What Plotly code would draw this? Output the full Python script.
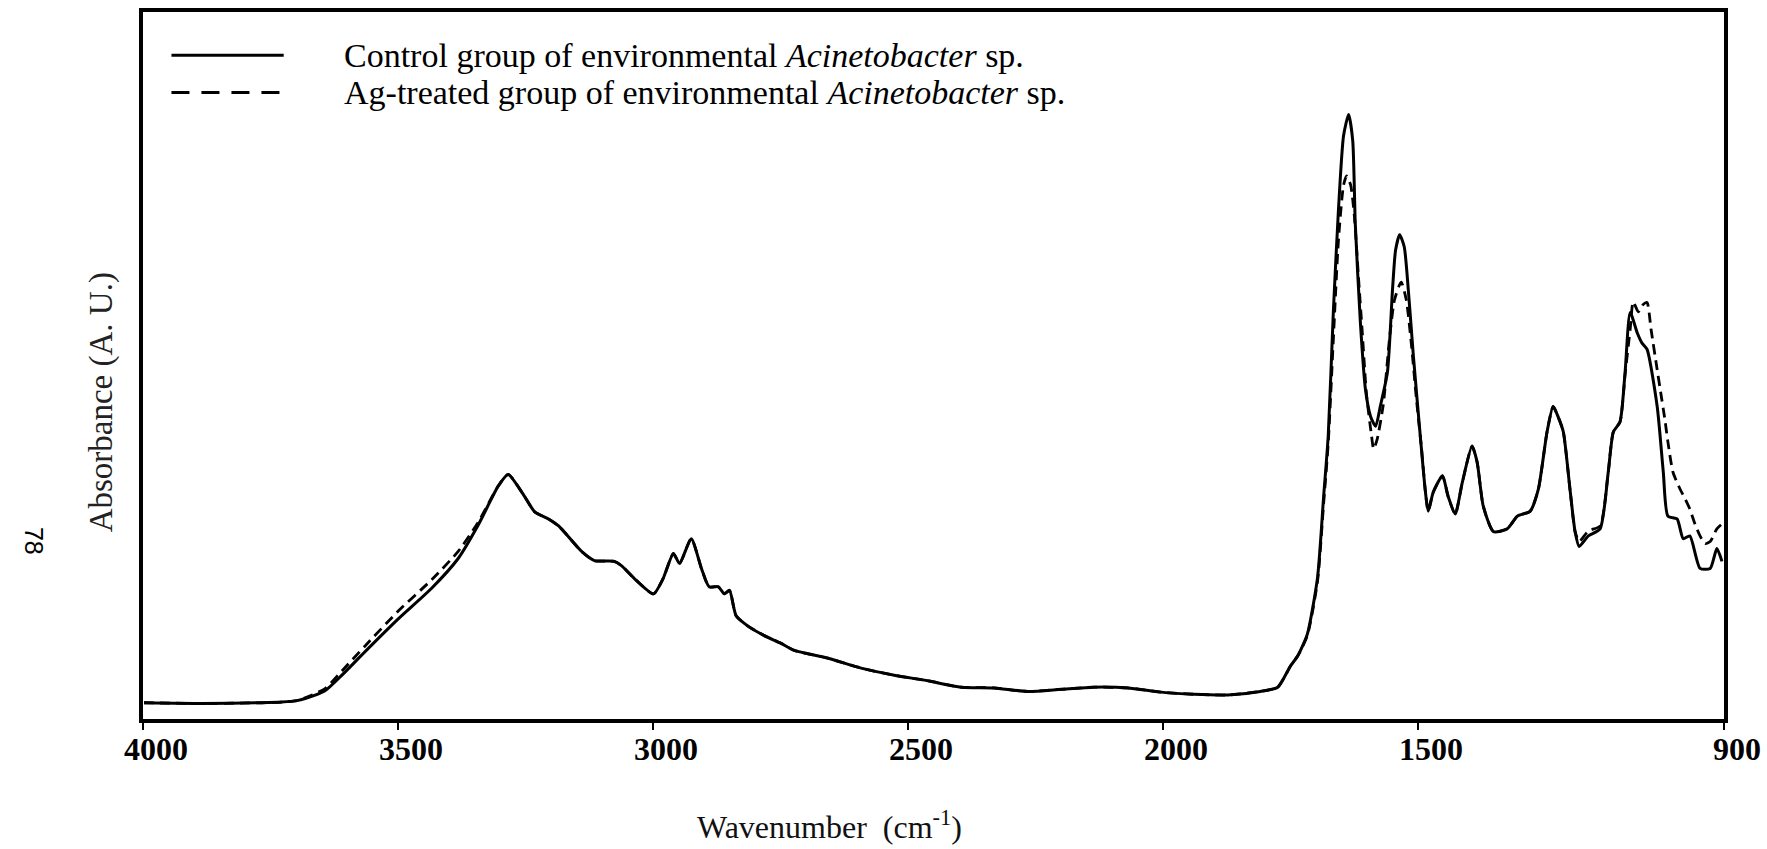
import plotly.graph_objects as go

# Wavenumber (cm-1) and absorbance (A.U.)
wn_control = [3998, 3884, 3767, 3728, 3698, 3682, 3643, 3610, 3565, 3499, 3434, 3382, 3343, 3303, 3284,
              3252, 3232, 3205, 3185, 3140, 3115, 3076, 3062, 3037, 2999, 2980, 2960, 2948, 2925, 2905,
              2890, 2872, 2860, 2850, 2837, 2813, 2782, 2749, 2723, 2657, 2592, 2527, 2461, 2396, 2332,
              2265, 2200, 2136, 2069, 2004, 1940, 1873, 1809, 1775, 1750, 1736, 1717, 1697, 1685, 1676,
              1666, 1656, 1646, 1636, 1628, 1623, 1613, 1603, 1593, 1583, 1574, 1560, 1550, 1544, 1536,
              1527, 1519, 1509, 1495, 1486, 1480, 1470, 1452, 1441, 1427, 1413, 1394, 1384, 1372, 1352,
              1325, 1305, 1280, 1264, 1247, 1235, 1225, 1215, 1202, 1192, 1184, 1166, 1143, 1127, 1117,
              1104, 1094, 1084, 1070, 1061, 1051, 1031, 1019, 1010, 992, 980, 967, 947, 927, 914, 904]
abs_control = [0.023, 0.022, 0.023, 0.024, 0.026, 0.029, 0.040, 0.062, 0.095, 0.142, 0.185, 0.227, 0.274, 0.330, 0.346,
               0.315, 0.293, 0.283, 0.273, 0.237, 0.224, 0.223, 0.217, 0.199, 0.177, 0.199, 0.234, 0.220, 0.255, 0.213,
               0.187, 0.187, 0.177, 0.182, 0.146, 0.131, 0.118, 0.107, 0.097, 0.086, 0.072, 0.062, 0.054, 0.045, 0.044,
               0.039, 0.042, 0.045, 0.044, 0.038, 0.035, 0.034, 0.039, 0.045, 0.075, 0.089, 0.120, 0.200, 0.315, 0.401,
               0.576, 0.720, 0.825, 0.855, 0.818, 0.701, 0.561, 0.466, 0.428, 0.414, 0.442, 0.490, 0.607, 0.663, 0.685,
               0.668, 0.607, 0.513, 0.396, 0.325, 0.294, 0.321, 0.344, 0.315, 0.290, 0.335, 0.386, 0.363, 0.301, 0.265,
               0.269, 0.287, 0.294, 0.325, 0.406, 0.442, 0.427, 0.406, 0.325, 0.265, 0.244, 0.259, 0.269, 0.349, 0.406,
               0.420, 0.490, 0.575, 0.546, 0.532, 0.523, 0.442, 0.349, 0.287, 0.283, 0.255, 0.259, 0.213, 0.213, 0.241, 0.223]

wn_ag = [3998, 3884, 3767, 3728, 3698, 3682, 3643, 3610, 3565, 3499, 3434, 3382, 3343, 3303, 3284,
         3252, 3232, 3205, 3185, 3140, 3115, 3076, 3062, 3037, 2999, 2980, 2960, 2948, 2925, 2905,
         2890, 2872, 2860, 2850, 2837, 2813, 2782, 2749, 2723, 2657, 2592, 2527, 2461, 2396, 2332,
         2265, 2200, 2136, 2069, 2004, 1940, 1873, 1809, 1775, 1750, 1736, 1717, 1697, 1685, 1676,
         1666, 1656, 1646, 1640, 1632, 1625, 1617, 1609, 1601, 1591, 1587, 1580, 1568, 1556, 1546,
         1533, 1523, 1513, 1503, 1493, 1486, 1480, 1470, 1452, 1441, 1427, 1413, 1394, 1384, 1372, 1352,
         1325, 1305, 1280, 1264, 1247, 1235, 1225, 1215, 1202, 1192, 1184, 1166, 1143, 1127, 1117,
         1104, 1094, 1084, 1078, 1068, 1059, 1051, 1043, 1031, 1025, 1016, 1010, 1000, 986, 976,
         967, 957, 947, 937, 927, 914, 904]
abs_ag = [0.023, 0.022, 0.023, 0.024, 0.026, 0.030, 0.043, 0.068, 0.103, 0.153, 0.197, 0.237, 0.278, 0.330, 0.346,
          0.315, 0.293, 0.283, 0.273, 0.237, 0.224, 0.223, 0.217, 0.199, 0.177, 0.199, 0.234, 0.220, 0.255, 0.213,
          0.187, 0.187, 0.177, 0.182, 0.146, 0.131, 0.118, 0.107, 0.097, 0.086, 0.072, 0.062, 0.054, 0.045, 0.044,
          0.039, 0.042, 0.045, 0.044, 0.038, 0.035, 0.034, 0.039, 0.045, 0.075, 0.089, 0.118, 0.195, 0.305, 0.390,
          0.537, 0.677, 0.755, 0.768, 0.755, 0.713, 0.628, 0.544, 0.459, 0.400, 0.382, 0.396, 0.445, 0.537, 0.593,
          0.618, 0.593, 0.530, 0.452, 0.382, 0.325, 0.294, 0.321, 0.344, 0.315, 0.290, 0.335, 0.386, 0.363, 0.301, 0.265,
          0.269, 0.287, 0.294, 0.325, 0.406, 0.442, 0.427, 0.406, 0.325, 0.265, 0.251, 0.266, 0.273, 0.349, 0.406,
          0.420, 0.487, 0.551, 0.590, 0.576, 0.586, 0.589, 0.551, 0.494, 0.466, 0.424, 0.392, 0.349, 0.325, 0.311,
          0.297, 0.276, 0.259, 0.248, 0.251, 0.269, 0.276]

x_ticks = [4000, 3500, 3000, 2500, 2000, 1500, 900]
legend_labels = ["Control group of environmental <i>Acinetobacter</i> sp.",
                 "Ag-treated group of environmental <i>Acinetobacter</i> sp."]

SERIF = "Liberation Serif"

fig = go.Figure()
fig.add_trace(go.Scatter(x=wn_ag, y=abs_ag, mode="lines", showlegend=False,
                         line=dict(color="black", width=2.8, dash="10px,6px",
                                   shape="spline", smoothing=0.6)))
fig.add_trace(go.Scatter(x=wn_control, y=abs_control, mode="lines", showlegend=False,
                         line=dict(color="black", width=3, shape="spline", smoothing=0.6)))

# hand-made legend (long line samples like the reference)
leg_y = [0.939, 0.886]
leg_dash = ["solid", "18px,12px"]
for yy, dsh, lab in zip(leg_y, leg_dash, legend_labels):
    fig.add_shape(type="line", xref="paper", yref="paper", x0=0.018, x1=0.089, y0=yy, y1=yy,
                  line=dict(color="black", width=3, dash=dsh))
    fig.add_annotation(xref="paper", yref="paper", x=0.126, y=yy, xanchor="left", yanchor="middle",
                       text=lab, showarrow=False, font=dict(family=SERIF, size=34, color="black"))

fig.add_annotation(xref="paper", yref="paper", x=0.434, y=-0.150, xanchor="center", yanchor="middle",
                   text="Wavenumber\u00a0\u00a0(cm<sup>-1</sup>)", showarrow=False,
                   font=dict(family=SERIF, size=32, color="#111"))
fig.add_annotation(xref="paper", yref="paper", x=-0.0265, y=0.448, xanchor="center", yanchor="middle",
                   text="Absorbance (A. U.)", textangle=-90, showarrow=False,
                   font=dict(family=SERIF, size=33, color="#222"))
fig.add_annotation(xref="paper", yref="paper", x=-0.069, y=0.252, xanchor="center", yanchor="middle",
                   text="78", textangle=90, showarrow=False,
                   font=dict(family="Liberation Sans", size=25, color="black"))

fig.update_layout(
    width=1767, height=849,
    margin=dict(l=143, r=43, t=12, b=130, autoexpand=False),
    paper_bgcolor="white", plot_bgcolor="white",
    xaxis=dict(range=[4000, 900], tickvals=x_ticks, ticktext=[str(t) for t in x_ticks],
               automargin=False,
               showgrid=False, zeroline=False, showline=True, linecolor="black", linewidth=4,
               mirror=True, ticks="outside", ticklen=7, tickwidth=1.5, tickcolor="black",
               ticklabelstandoff=-8, ticklabelshift=-13,
               tickfont=dict(family=SERIF, size=32, color="black", weight="bold")),
    yaxis=dict(range=[0, 1], showticklabels=False, showgrid=False, zeroline=False, automargin=False,
               showline=True, linecolor="black", linewidth=4, mirror=True, ticks=""),
)

fig.write_html("out.html")
